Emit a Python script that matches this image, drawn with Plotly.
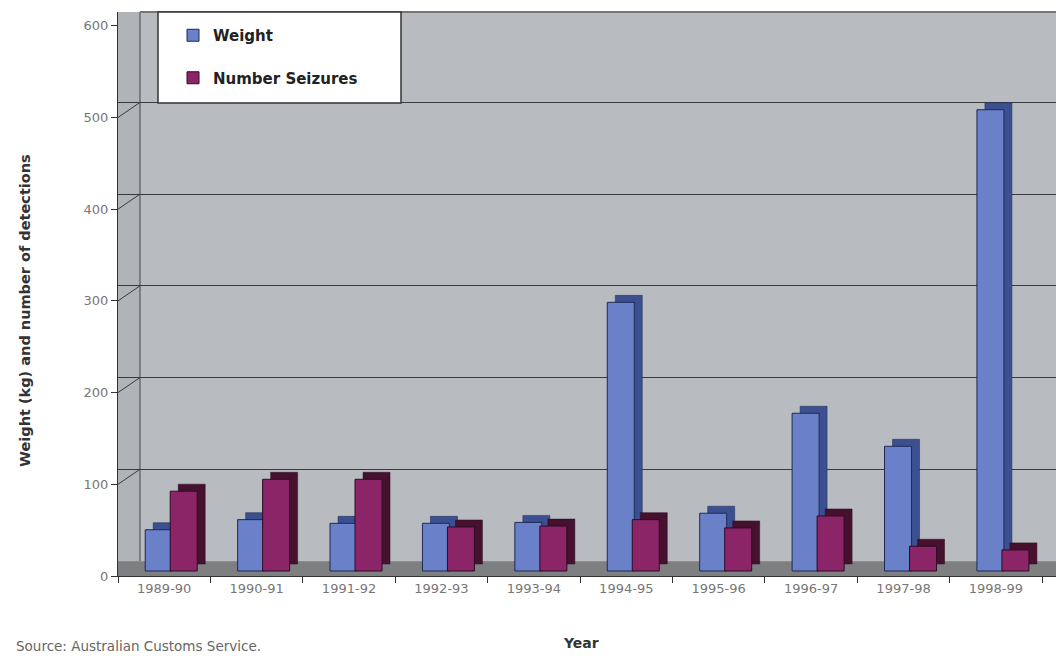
import plotly.graph_objects as go

years = ["1989-90", "1990-91", "1991-92", "1992-93", "1993-94",
         "1994-95", "1995-96", "1996-97", "1997-98", "1998-99"]
weight = [45, 56, 52, 52, 53, 293, 63, 172, 136, 503]
seizures = [87, 100, 100, 48, 49, 56, 47, 60, 27, 23]
y_ticks = [0, 100, 200, 300, 400, 500, 600]

W, H = 1056, 666
L, R, T, B = 118, 0, 12, 90
pw, ph = W - L - R, H - T - B
cat_px = pw / 10.15          # pixels per category
unit_px = ph / 615.0         # pixels per value unit

def px_x(p):
    return (p - L) / pw

def px_y(p):
    return (H - B - p) / ph

dx = 8 / cat_px              # depth offset in category units
dy = 7 / unit_px             # depth offset in value units
z0 = 5 / unit_px             # bars stand slightly back on the floor
back = 16.4                  # back-wall shift in value units
bw = 27 / cat_px             # bar face width

w_off = -19 / cat_px
n_off = 6 / cat_px

font = "DejaVu Sans, Verdana, sans-serif"

fig = go.Figure()
series = [
    ("Weight", weight, w_off, "#6a80c9", "#3b4f91", "#1d2a55"),
    ("Number Seizures", seizures, n_off, "#8c2468", "#45112f", "#2e0c24"),
]
for name, vals, off, face, side, edge in series:
    fig.add_trace(go.Bar(x=years, y=vals, base=[z0 + dy] * len(vals), offset=off + dx,
                         width=bw, marker=dict(color=side, line=dict(color=edge, width=0.5)),
                         showlegend=False, hoverinfo="skip"))
    fig.add_trace(go.Bar(x=years, y=vals, base=[z0] * len(vals), name=name,
                         legendgroup=name, offset=off, width=bw,
                         marker=dict(color=face, line=dict(color=edge, width=1))))

# invisible trace carrying the back-wall gridlines
fig.add_trace(go.Scatter(x=[years[0]], y=[0], yaxis="y2", mode="markers",
                         marker=dict(opacity=0), showlegend=False, hoverinfo="skip"))

shapes = [
    dict(type="rect", xref="paper", yref="paper", x0=0, x1=px_x(140), y0=0, y1=1,
         fillcolor="#b0b4b9", line=dict(width=0), layer="between"),
    dict(type="rect", xref="paper", yref="y", x0=0, x1=1, y0=0, y1=16,
         fillcolor="#7e7f81", line=dict(width=0), layer="between"),
    dict(type="line", xref="paper", yref="paper", x0=px_x(140), x1=px_x(140),
         y0=px_y(561), y1=1, line=dict(color="#444444", width=1), layer="between"),
    dict(type="line", xref="paper", yref="paper", x0=px_x(140), x1=1,
         y0=1, y1=1, line=dict(color="#777777", width=2), layer="between"),
]
# side-wall slants joining front ticks to back-wall gridlines
for t in y_ticks[1:-1]:
    shapes.append(dict(type="line", xref="paper", yref="y", x0=0, x1=px_x(140),
                       y0=t, y1=t + back, line=dict(color="#3a3a3a", width=1),
                       layer="between"))
shapes.append(dict(type="rect", xref="paper", yref="paper", x0=px_x(158), x1=px_x(401),
                   y0=px_y(103), y1=1, fillcolor="white",
                   line=dict(color="#333333", width=1.5), layer="above"))

fig.update_layout(
    width=W, height=H,
    margin=dict(l=L, r=R, t=T, b=B),
    paper_bgcolor="white",
    plot_bgcolor="#b8bcc1",
    barmode="overlay",
    font=dict(family=font, color="#666666", size=13),
    xaxis=dict(range=[-0.5, 9.65], showline=True, linecolor="#333333", linewidth=1,
               ticks="outside", tickson="boundaries", ticklen=6, tickcolor="#333333",
               showgrid=False, tickfont=dict(family=font, size=13, color="#777777")),
    yaxis=dict(range=[0, 615], tickvals=y_ticks, showline=True, linecolor="#333333",
               linewidth=1, ticks="outside", ticklen=6, tickcolor="#333333",
               showgrid=False, zeroline=False,
               tickfont=dict(family=font, size=13, color="#777777")),
    yaxis2=dict(range=[-back, 615 - back], overlaying="y", tickvals=y_ticks[1:-1],
                showticklabels=False, showgrid=True, gridcolor="#3a3a3a", gridwidth=1,
                zeroline=False, showline=False),
    legend=dict(x=px_x(173), y=px_y(19), xanchor="left", yanchor="top",
                bgcolor="rgba(0,0,0,0)", tracegroupgap=20,
                font=dict(family=font, size=15, color="#222222", weight="bold")),
    shapes=shapes,
    annotations=[
        dict(text="<b>Weight (kg) and number of detections</b>", textangle=-90,
             xref="paper", yref="paper", x=px_x(25), y=px_y(311),
             showarrow=False, font=dict(family=font, size=14.5, color="#333333"),
             xanchor="center", yanchor="middle"),
        dict(text="<b>Year</b>", xref="paper", yref="paper", x=px_x(581), y=px_y(653),
             showarrow=False, font=dict(family=font, size=14, color="#333333")),
        dict(text="Source: Australian Customs Service.", xref="paper", yref="paper",
             x=px_x(14), y=px_y(656), xanchor="left", showarrow=False,
             font=dict(family=font, size=13.5, color="#666666")),
    ],
)

fig.write_html("out.html")
